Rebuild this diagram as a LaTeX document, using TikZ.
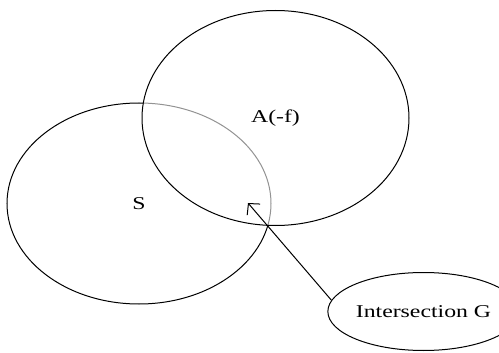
\documentclass[tikz,border=0pt]{standalone}
\usepackage{fontspec}
\newfontfamily\lab{Liberation Serif}[FakeStretch=1.32]
\usetikzlibrary{shapes.geometric,arrows.meta}
\tikzset{
  oval/.style={ellipse, inner sep=0pt, line width=1pt, font=\lab\fontsize{18}{20}\selectfont},
  pointer/.style={line width=1pt, -{Straight Barb[length=8pt,width=17pt,line width=1pt]}}
}
\begin{document}
\begin{tikzpicture}[x=1pt,y=-1pt]
\useasboundingbox (0,0) rectangle (499,353);
% S ellipse
\node[oval, draw, minimum width=264pt, minimum height=201pt] (S) at (139,203.5) {S};
% part of S inside A drawn grey
\begin{scope}
  \clip (275.5,118) ellipse [x radius=133.5pt, y radius=107.5pt];
  \fill[white] (0,0) rectangle (499,353);
  \draw[line width=1pt, gray!85] (139,203.5) ellipse [x radius=132pt, y radius=100.5pt];
\end{scope}
% A ellipse
\node[oval, draw, minimum width=267pt, minimum height=215pt] (A) at (275.5,118) {A(-f)};
% Intersection G
\node[oval, draw, minimum width=149pt, minimum height=78pt] (G) at (423.5,311.5) {Intersection G};
\coordinate (tip) at (248,203);
\draw[pointer] (G.173) -- (tip);
\end{tikzpicture}
\end{document}
